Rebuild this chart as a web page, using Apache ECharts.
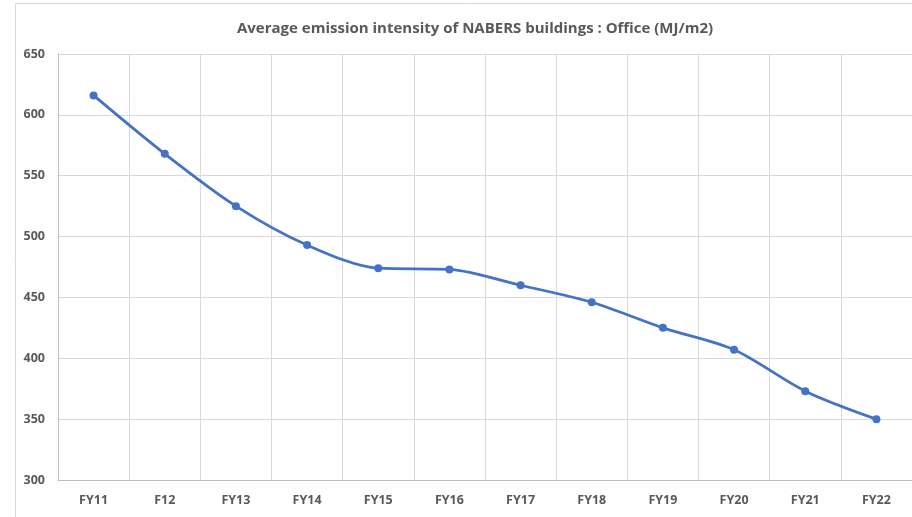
<!DOCTYPE html>
<html>
<head>
<meta charset="utf-8">
<script src="https://cdn.jsdelivr.net/npm/echarts@6/dist/echarts.min.js"></script>
<style>
  html, body { margin: 0; padding: 0; background: #fff; }
  #chart { width: 912px; height: 517px; }
</style>
</head>
<body>
<div id="chart"></div>
<script>
const years = ['FY11', 'F12', 'FY13', 'FY14', 'FY15', 'FY16', 'FY17', 'FY18', 'FY19', 'FY20', 'FY21', 'FY22']
const intensity = [616, 568, 525, 493, 474, 473, 460, 446, 425, 407, 373, 350]

const grey = '#595959'
let c = echarts.init(document.getElementById('chart'))
c.setOption({
  animation: false,
  title: {
    text: 'Average emission intensity of NABERS buildings : Office (MJ/m2)',
    left: 470,
    textAlign: 'center',
    top: 16,
    textStyle: {
      fontFamily: 'Open Sans',
      fontSize: 15,
      fontWeight: 'bold',
      color: grey
    }
  },
  graphic: [{
    type: 'rect',
    shape: { x: 15.5, y: 3.5, width: 920, height: 540 },
    style: { fill: 'none', stroke: '#d9d9d9', lineWidth: 1 },
    silent: true
  }],
  grid: {
    left: 58,
    top: 54,
    width: 857,
    height: 426
  },
  xAxis: {
    type: 'category',
    data: years,
    boundaryGap: true,
    axisLine: { lineStyle: { color: '#bfbfbf', width: 1 } },
    axisTick: { show: false },
    splitLine: { show: true, lineStyle: { color: '#d9d9d9' } },
    axisLabel: {
      margin: 14,
      fontFamily: 'Open Sans',
      fontSize: 12.5,
      fontWeight: 'bold',
      color: grey
    }
  },
  yAxis: {
    type: 'value',
    min: 300,
    max: 650,
    interval: 50,
    axisLine: { show: true, lineStyle: { color: '#bfbfbf', width: 1 } },
    axisTick: { show: false },
    splitLine: { lineStyle: { color: '#d9d9d9' } },
    axisLabel: {
      margin: 13,
      fontFamily: 'Open Sans',
      fontSize: 12.5,
      fontWeight: 'bold',
      color: grey
    }
  },
  series: [{
    type: 'line',
    data: intensity,
    smooth: 0.3,
    symbol: 'circle',
    symbolSize: 8,
    lineStyle: { color: '#4472c4', width: 2.75 },
    itemStyle: { color: '#4472c4' }
  }]
})
</script>
</body>
</html>
